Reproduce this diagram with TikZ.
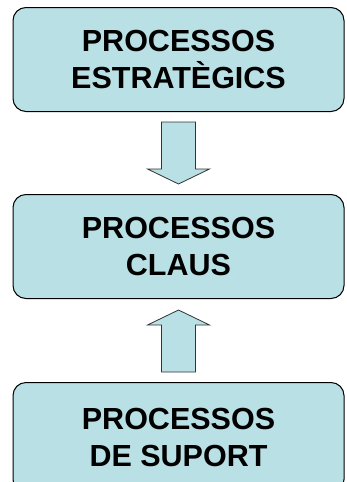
\documentclass[tikz,border=0pt]{standalone}
\usepackage{fontspec}
\setmainfont{Liberation Sans}
\usetikzlibrary{positioning,calc}

\definecolor{procfill}{RGB}{185,224,228}

\begin{document}
\begin{tikzpicture}[
proc/.style={rectangle,rounded corners=13pt,draw=black,line width=1pt,fill=procfill,
    minimum width=331pt,minimum height=104pt,align=center,
    font=\fontsize{30.5}{37}\selectfont\bfseries},
blockarrow/.style={draw=black!80,line width=0.8pt,fill=procfill}
]

\useasboundingbox (0,0) rectangle (346pt,-482pt);

\node[proc] (strat) at (178.5pt,-59.5pt) {PROCESSOS\\ESTRATÈGICS};
\node[proc,below=82pt of strat] (claus) {PROCESSOS\\CLAUS};
\node[proc,below=83pt of claus,minimum height=110pt] (suport) {PROCESSOS\\DE SUPORT};

% fletxa cap avall
\draw[blockarrow] ($(strat.south)+(-17pt,-10pt)$) -- ($(claus.north)+(-17pt,25pt)$)
    -- ($(claus.north)+(-31pt,25pt)$) -- ($(claus.north)+(0,10pt)$)
    -- ($(claus.north)+(31pt,25pt)$) -- ($(claus.north)+(17pt,25pt)$)
    -- ($(strat.south)+(17pt,-10pt)$) -- cycle;

% fletxa cap amunt
\draw[blockarrow] ($(suport.north)+(-17pt,10pt)$) -- ($(claus.south)+(-17pt,-26pt)$)
    -- ($(claus.south)+(-31pt,-26pt)$) -- ($(claus.south)+(0,-11pt)$)
    -- ($(claus.south)+(31pt,-26pt)$) -- ($(claus.south)+(17pt,-26pt)$)
    -- ($(suport.north)+(17pt,10pt)$) -- cycle;

\end{tikzpicture}
\end{document}
